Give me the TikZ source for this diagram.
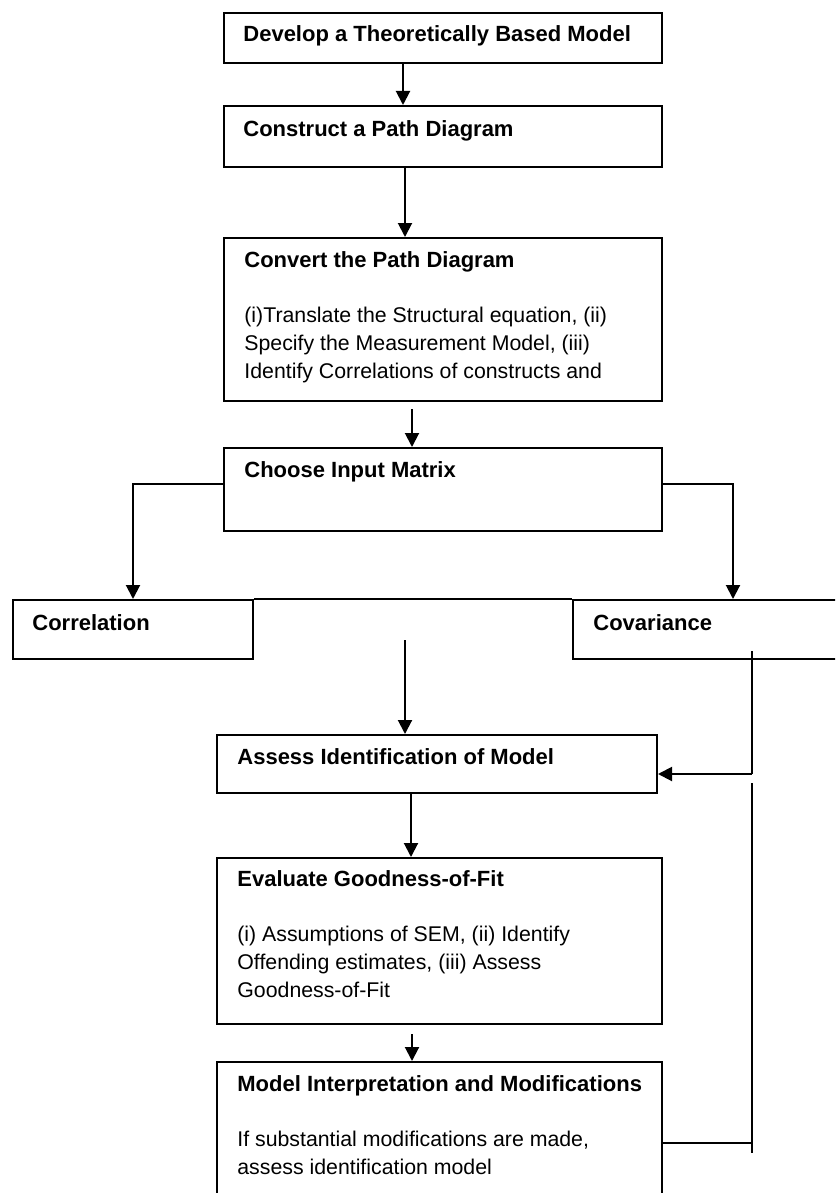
\documentclass[tikz,border=0pt]{standalone}
\usepackage{fontspec}
\setmainfont{Liberation Sans}
\usetikzlibrary{arrows.meta}
\tikzset{
  box/.style={draw, line width=1pt, anchor=north west, inner sep=0pt},
  head/.style={anchor=base west, inner sep=0pt, font=\fontsize{11}{14}\selectfont\bfseries},
  body/.style={anchor=base west, inner sep=0pt, align=left},
  arr/.style={line width=1pt, -{Triangle[length=7pt,width=7pt]}},
  ln/.style={line width=1pt}
}
\begin{document}
\begin{tikzpicture}[x=0.5pt, y=-0.5pt, font=\fontsize{10.65}{14}\selectfont]
  \clip (0,0) rectangle (835,1193);
  % cajas del diagrama
  \node[box, minimum width=219pt, minimum height=25pt] (dev) at (223,12) {};
  \node[box, minimum width=219pt, minimum height=30.5pt] (path) at (223,105) {};
  \node[box, minimum width=219pt, minimum height=81.5pt] (conv) at (223,237) {};
  \node[box, minimum width=219pt, minimum height=41.5pt] (input) at (223,447) {};
  \node[box, minimum width=120pt, minimum height=29.5pt] (corr) at (12,599) {};
  \node[box, minimum width=160pt, minimum height=29.5pt] (cov) at (572,599) {};
  \node[box, minimum width=220pt, minimum height=29pt] (ident) at (216,734) {};
  \node[box, minimum width=222.5pt, minimum height=83pt] (fit) at (216,857) {};
  \node[box, minimum width=222.5pt, minimum height=74.5pt] (interp) at (216,1061) {};

  % textos (body: base = ultima linea)
  \node[head] (devT) at (243,42) {Develop a Theoretically Based Model};
  \node[head] (pathT) at (243,136) {Construct a Path Diagram};
  \node[head] (convT) at (244,267) {Convert the Path Diagram};
  \node[body] (convB) at (244,378) {(i)Translate the Structural equation, (ii)\\
    Specify the Measurement Model, (iii)\\ Identify Correlations of constructs and};
  \node[head] (inputT) at (244,477) {Choose Input Matrix};
  \node[head] (corrT) at (32,630) {Correlation};
  \node[head] (covT) at (593,630) {Covariance};
  \node[head] (identT) at (237,764) {Assess Identification of Model};
  \node[head] (fitT) at (237,886) {Evaluate Goodness-of-Fit};
  \node[body] (fitB) at (237,997) {(i) Assumptions of SEM, (ii) Identify\\
    Offending estimates, (iii) Assess\\ Goodness-of-Fit};
  \node[head] (interpT) at (237,1091) {Model Interpretation and Modifications};
  \node[body] (interpB) at (237,1174) {If substantial modifications are made,\\
    assess identification model};

  \draw[arr] (dev.south -| 403,0) -- (path.north -| 403,0);
  \draw[arr] (path.south -| 405,0) -- (conv.north -| 405,0);
  \draw[arr, shorten <=3.5pt] (conv.south -| 412,0) -- (input.north -| 412,0);
  \draw[arr] ([yshift=2.75pt]input.west) -| (corr.north);
  \draw[arr] ([yshift=2.75pt]input.east) -| (cov.north);
  \draw[ln] (corr.north east) -- (cov.north west);
  \coordinate (mid) at (405,640);
  \draw[arr] (mid) -- (mid |- ident.north);
  \draw[arr] (ident.south -| 411,0) -- (fit.north -| 411,0);
  \draw[arr, shorten <=4.5pt] (fit.south -| 412,0) -- (interp.north -| 412,0);

  % retroalimentacion
  \coordinate (fbA) at (752,651);
  \coordinate (fbB) at (752,774);
  \coordinate (fbC) at (752,783);
  \coordinate (fbD) at (752,1153);
  \coordinate (fbJ) at (752,1143);
  \draw[ln] (fbA) -- (fbB);
  \draw[arr] (fbB) -- (fbB -| ident.east);
  \draw[ln] (fbC) -- (fbD);
  \draw[ln] (interp.east |- fbJ) -- (fbJ);
\end{tikzpicture}
\end{document}
